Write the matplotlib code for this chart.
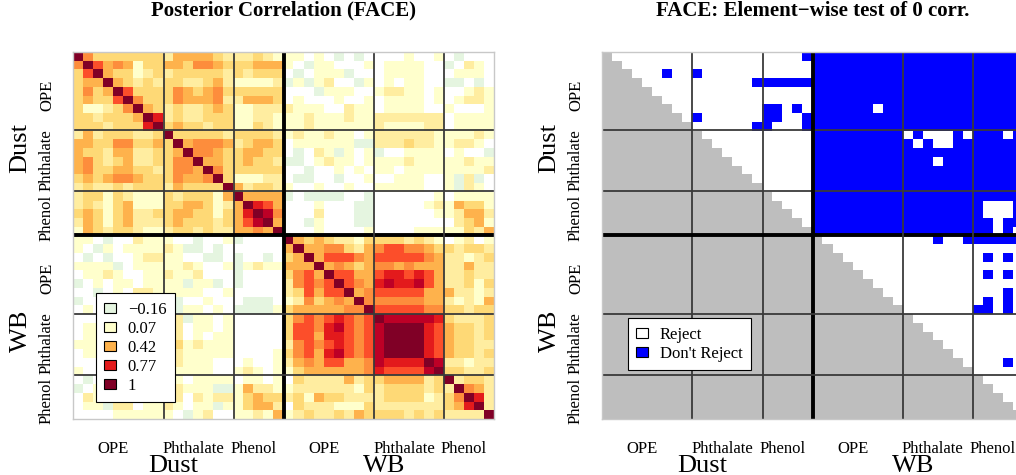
import numpy as np
import matplotlib
matplotlib.use("Agg")
import matplotlib.pyplot as plt
from matplotlib.colors import ListedColormap, BoundaryNorm
from matplotlib.patches import Patch

plt.rcParams["font.family"] = ["Liberation Serif", "DejaVu Serif"]

groups = ["Dust", "WB"]
classes = ["OPE", "Phthalate", "Phenol"]
class_sizes = [9, 7, 5]          # variables per class, same for both groups

# colour class of every cell in the posterior correlation map
# g = negative (green), w = ~0 (white), 1..9 = YlOrRd shades, light -> dark
code_names = "gw123456789"
code_values = [-0.16, 0.0, 0.07, 0.15, 0.27, 0.42, 0.53, 0.65, 0.77, 0.9, 1.0]
code_colors = ["#e5f5e0", "#ffffff", "#ffffcc", "#ffeda0", "#fed976", "#feb24c",
               "#fd8d3c", "#fc4e2a", "#e31a1c", "#bd0026", "#800026"]

# Dust x Dust, upper triangle (row i lists columns i..20)
dust_upper = [
    "953333333" "2444432" "22321",
    "96454133" "4435543" "33444",
    "9433123" "2333332" "32333",
    "943232" "3322342" "11112",
    "96333" "3543453" "33333",
    "9533" "3544452" "24443",
    "943" "2322343" "11222",
    "97" "2322333" "11221",
    "9" "3433233" "11321",
    "9333332" "33332",
    "945554" "23443",
    "95543" "34433",
    "9443" "34332",
    "953" "33333",
    "93" "11122",
    "9" "42332",
    "94444",
    "9764",
    "985",
    "94",
    "9",
]
# Dust rows x WB columns
dust_wb = [
    "11w1wgwgw" "www1ww1" "wgwww",
    "1wg11www1" "w1111ww" "gw21w",
    "wgw111gww" "w1111ww" "w111w",
    "g1g12wwg1" "w1w11ww" "ggwgw",
    "wwwg111ww" "12211w1" "ww121",
    "w1www1ww1" "w1111w1" "w1221",
    "2111ww211" "w1111ww" "1www1",
    "112111211" "2222222" "w1111",
    "112111111" "2111122" "w1111",
    "1211211w1" "2222221" "11121",
    "w111111gg" "2223221" "1221w",
    "wgw21g1w1" "gww1111" "w1wwg",
    "ggw1211w1" "1112111" "11211",
    "wwgww1w1w" "11w1111" "11112",
    "wggwwgww1" "ww111ww" "1g2gw",
    "1ww1ww1ww" "11111ww" "1g21w",
    "gwggggwwg" "wwwwww1" "w1111",
    "www1wwwgg" "wwwww12" "14331",
    "www2wwwgg" "wwwwww1" "12442",
    "wwg1wwwgg" "wwwwwww" "w2341",
    "www1wwww1" "wwww111" "11324",
]
# WB x WB, upper triangle
wb_upper = [
    "943432213" "3332321" "w12w1",
    "94455324" "5665543" "32332",
    "9466654" "6666654" "22123",
    "945434" "5545444" "22422",
    "96644" "6776764" "22322",
    "9654" "7877864" "22313",
    "945" "6666644" "42212",
    "95" "5555544" "21214",
    "9" "6666655" "33233",
    "9888887" "32223",
    "999976" "43323",
    "99976" "43323",
    "9976" "43322",
    "976" "43323",
    "98" "22122",
    "9" "33223",
    "92332",
    "9542",
    "972",
    "92",
    "9",
]

legend_labels = ["\u22120.16", "0.07", "0.42", "0.77", "1"]
legend_colors = ["#e5f5e0", "#ffffcc", "#feb24c", "#e31a1c", "#800026"]

# element-wise test, upper triangle above the diagonal: 1 = don't reject, 0 = reject
test_dust = [
    "00000000000000000001",
    "0000000000000000000",
    "000100100000000000",
    "00000000000111111",
    "0000000000000000",
    "000000000000000",
    "00000000011010",
    "0100000011001",
    "000000110001",
    "00000000000",
    "0000000000",
    "000000000",
    "00000000",
    "0000000",
    "000000",
    "00000",
    "0000",
    "000",
    "00",
    "0",
    "",
]
test_cross = [
    "111111111111111111111",
    "111111111111111111111",
    "111111111111111111111",
    "111111111111111111111",
    "111111111111111111111",
    "111111111111111111111",
    "111111011111111111111",
    "111111111111111111111",
    "111111111111111111111",
    "111111111010001011101",
    "111111111101001111111",
    "111111111111111111111",
    "111111111111011111111",
    "111111111111111111111",
    "111111111111111111111",
    "111111111111111111111",
    "111111111111111111111",
    "111111111111111110001",
    "111111111111111110001",
    "111111111111111111011",
    "111111111111111111010",
]
test_wb = [
    "00000000000100111111",
    "0000000000000000000",
    "000000000000001010",
    "00000000000000000",
    "0000000000001010",
    "000000000000000",
    "00000000000010",
    "0000000001010",
    "000000011010",
    "00000000000",
    "0000000000",
    "000000000",
    "00000000",
    "0000000",
    "000010",
    "00000",
    "0000",
    "000",
    "00",
    "0",
    "",
]
test_labels = ["Reject", "Don't Reject"]
test_colors = ["#bebebe", "#ffffff", "#0000ff"]   # lower triangle, reject, don't reject

nd = sum(class_sizes)
n = 2 * nd
val = dict(zip(code_names, code_values))

corr = np.zeros((n, n))
for i, row in enumerate(dust_upper):
    corr[i, i:i + len(row)] = [val[c] for c in row]
for i, row in enumerate(dust_wb):
    corr[i, nd:] = [val[c] for c in row]
for k, row in enumerate(wb_upper):
    i = nd + k
    corr[i, i:i + len(row)] = [val[c] for c in row]
corr = np.triu(corr) + np.triu(corr, 1).T

test = np.full((n, n), -1.0)
for i, row in enumerate(test_dust):
    test[i, i + 1:nd] = [int(c) for c in row]
for i, row in enumerate(test_cross):
    test[i, nd:] = [int(c) for c in row]
for k, row in enumerate(test_wb):
    i = nd + k
    test[i, i + 1:] = [int(c) for c in row]

edges = np.cumsum([0] + class_sizes + class_sizes)
sub_x = [4, 12, 18, 25, 33, 39]
sub_y = [5, 12.4, 19, 26, 33.4, 40]
grp_x = [10, 31]
grp_y = [11, 32]


def decorate(ax):
    ax.set_xlim(0, n); ax.set_ylim(n, 0)
    ax.set_xticks([]); ax.set_yticks([])
    for b in edges[1:-1]:
        lw, col = (2.8, "black") if b == nd else (1.3, "#3a3a3a")
        ax.axhline(b, color=col, lw=lw)
        ax.axvline(b, color=col, lw=lw)
    for s in ax.spines.values():
        s.set_color("#c8c8c8"); s.set_linewidth(1)
    names = classes * 2
    for x, y, name in zip(sub_x, sub_y, names):
        ax.annotate(name, xy=(x, 0), xycoords=("data", "axes fraction"), xytext=(0, -24.5),
                    textcoords="offset points", ha="center", va="baseline", fontsize=12)
        ax.annotate(name, xy=(0, y), xycoords=("axes fraction", "data"), xytext=(-19, 0),
                    textcoords="offset points", ha="center", va="center", rotation=90, fontsize=12)
    for x, y, name in zip(grp_x, grp_y, groups):
        ax.annotate(name, xy=(x, 0), xycoords=("data", "axes fraction"), xytext=(0, -38.8),
                    textcoords="offset points", ha="center", va="baseline", fontsize=19)
        ax.annotate(name, xy=(0, y), xycoords=("axes fraction", "data"), xytext=(-38, 0),
                    textcoords="offset points", ha="center", va="center", rotation=90, fontsize=19)


def add_legend(ax, handles, labels, anchor):
    lg = ax.legend(handles, labels, loc="upper left", bbox_to_anchor=anchor, fancybox=False,
                   edgecolor="black", framealpha=1, fontsize=12, handlelength=0.7, handleheight=0.55,
                   handletextpad=0.7, labelspacing=0.18, borderpad=0.5, borderaxespad=0)
    lg.get_frame().set_linewidth(0.8)


fig = plt.figure(figsize=(10.16, 4.75), dpi=100)
ax1 = fig.add_axes([0.0722, 0.1189, 0.4141, 0.7722])
ax2 = fig.add_axes([0.5928, 0.1189, 0.4141, 0.7722])

bounds = [-0.3] + [(a + b) / 2 for a, b in zip(code_values[:-1], code_values[1:])] + [1.05]
ax1.imshow(corr, cmap=ListedColormap(code_colors), norm=BoundaryNorm(bounds, len(code_colors)),
           extent=(0, n, n, 0), interpolation="nearest", aspect="auto")
decorate(ax1)
ax1.set_title("Posterior Correlation (FACE)", fontsize=15, fontweight="bold", pad=26)
add_legend(ax1, [Patch(facecolor=c, edgecolor="black", linewidth=0.8) for c in legend_colors],
           legend_labels, (0.054, 0.3414))

ax2.imshow(test, cmap=ListedColormap(test_colors), vmin=-1.5, vmax=1.5,
           extent=(0, n, n, 0), interpolation="nearest", aspect="auto")
decorate(ax2)
ax2.set_title("FACE: Element\u2212wise test of 0 corr.", fontsize=15, fontweight="bold", pad=26)
add_legend(ax2, [Patch(facecolor=c, edgecolor="black", linewidth=0.8) for c in test_colors[1:]],
           test_labels, (0.061, 0.273))

fig.savefig("out.png", dpi=100)
